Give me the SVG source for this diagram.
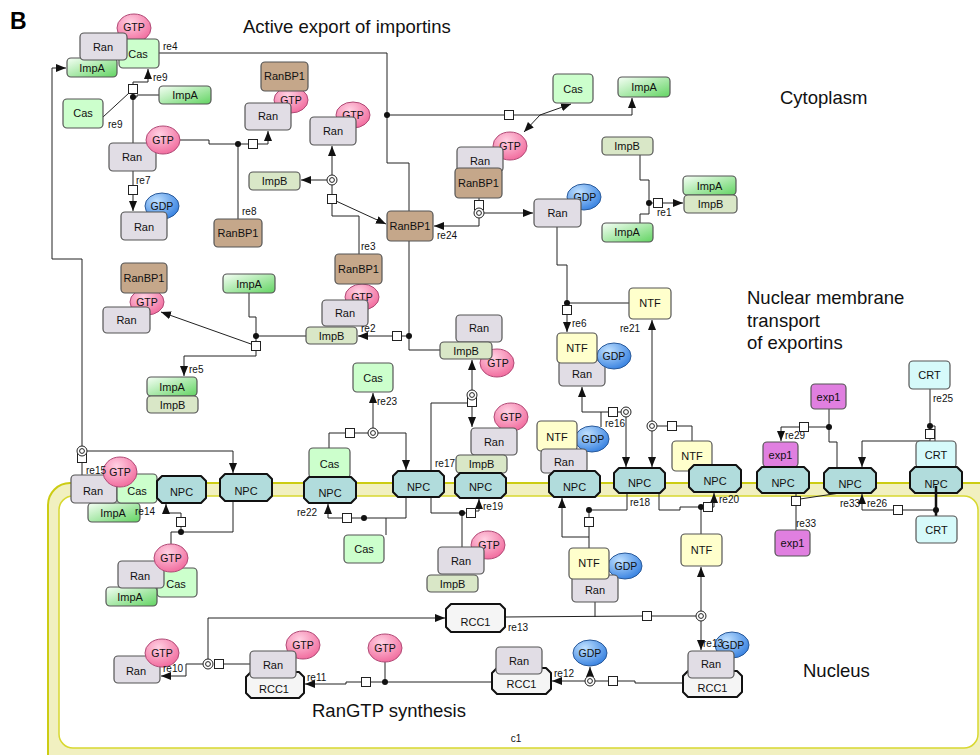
<svg xmlns="http://www.w3.org/2000/svg" xmlns:xlink="http://www.w3.org/1999/xlink" width="980" height="755" viewBox="0 0 980 755">
<defs>
<style>
.t{font-family:"Liberation Sans",Arial,sans-serif;font-size:11px;text-anchor:middle;fill:#111}
.e{font-size:10.5px}
.lbl{font-family:"Liberation Sans",Arial,sans-serif;font-size:10px;fill:#111}
.big{font-family:"Liberation Sans",Arial,sans-serif;font-size:18.5px;fill:#111}
.ran{fill:#e1dde5;stroke:#555;stroke-width:1.2}
.cas{fill:#ccffcc;stroke:#555;stroke-width:1.2}
.impa{fill:url(#gA);stroke:#555;stroke-width:1.2}
.impb{fill:#d9e7c7;stroke:#555;stroke-width:1.2}
.bp1{fill:#c5a78a;stroke:#555;stroke-width:1.2}
.ntf{fill:#ffffcc;stroke:#555;stroke-width:1.2}
.exp{fill:#e07fe0;stroke:#555;stroke-width:1.2}
.crt{fill:#d6fafa;stroke:#555;stroke-width:1.2}
.npc{fill:#b1dcdc;stroke:#111;stroke-width:2;stroke-linejoin:round}
.rcc{fill:#f5f5f5;stroke:#111;stroke-width:2;stroke-linejoin:round}
.gtp{fill:url(#gT);stroke:#b04a76;stroke-width:1}
.gdp{fill:url(#gD);stroke:#2a5a9a;stroke-width:1}
.ln{fill:none;stroke:#222;stroke-width:1}
.sq{fill:#fff;stroke:#222;stroke-width:1}
.dot{fill:#111}
.ringo{fill:#fff;stroke:#222;stroke-width:1}
</style>
<linearGradient id="gA" x1="0" y1="0" x2="1" y2="1"><stop offset="0" stop-color="#f6fff6"/><stop offset="1" stop-color="#62d462"/></linearGradient>
<radialGradient id="gT" cx="0.4" cy="0.3" r="0.85"><stop offset="0" stop-color="#ffd0e2"/><stop offset="1" stop-color="#ef5a92"/></radialGradient>
<radialGradient id="gD" cx="0.35" cy="0.3" r="0.85"><stop offset="0" stop-color="#bfe0ff"/><stop offset="1" stop-color="#2474dc"/></radialGradient>
<marker id="ah" markerWidth="10" markerHeight="8" refX="10" refY="4" orient="auto" markerUnits="userSpaceOnUse"><path d="M0,0 L10,4 L0,8 z" fill="#111"/></marker>
<rect id="sq" class="sq" x="-4.5" y="-4.5" width="9" height="9"/>
<g id="ring"><circle class="ringo" r="5"/><circle r="2.4" fill="none" stroke="#222"/></g>
</defs>

<rect width="980" height="755" fill="#fff"/>

<g id="c1">
<rect x="48" y="483" width="960" height="300" rx="22" fill="#f1f0c0" stroke="#cccc14" stroke-width="2"/>
<rect x="59" y="496" width="919" height="252" rx="14" fill="#fff" stroke="#d8d830" stroke-width="1.5"/>
<text class="lbl" x="516" y="742" text-anchor="middle">c1</text>
</g>

<g id="titles">
<text x="10" y="29" font-family="Liberation Sans,Arial,sans-serif" font-size="23" font-weight="bold">B</text>
<text class="big" x="243" y="33">Active export of importins</text>
<text class="big" x="780" y="104">Cytoplasm</text>
<text class="big" x="747" y="304">Nuclear membrane</text>
<text class="big" x="747" y="327">transport</text>
<text class="big" x="747" y="349">of exportins</text>
<text class="big" x="803" y="677">Nucleus</text>
<text class="big" x="312" y="717">RanGTP synthesis</text>
</g>

<g id="connectors" class="ln">
<!-- re4 -->
<polyline points="159,53 387,53 387,163 409,163 409,211"/>
<polyline points="387,115 632,115 632,98" marker-end="url(#ah)"/>
<polyline points="540,115 571,104" marker-end="url(#ah)"/>
<polyline points="540,115 524,132" marker-end="url(#ah)"/>
<!-- re24 -->
<line x1="479" y1="198" x2="479" y2="203"/>
<polyline points="484,213 533,213" marker-end="url(#ah)"/>
<polyline points="479,218 479,226 434,226" marker-end="url(#ah)"/>
<!-- re8 -->
<polyline points="180,140 209,140 209,144 248,144"/>
<polyline points="258,144 268,144 268,131" marker-end="url(#ah)"/>
<line x1="238" y1="144" x2="238" y2="219"/>
<!-- re7 -->
<line x1="133" y1="171" x2="133" y2="186"/>
<line x1="133" y1="195" x2="133" y2="211" marker-end="url(#ah)"/>
<!-- re9 -->
<line x1="103" y1="117" x2="129" y2="93"/>
<polyline points="133,85 133,82 148,82 148,69" marker-end="url(#ah)"/>
<line x1="133" y1="93" x2="133" y2="143"/>
<polyline points="133,97 137,97 137,95 159,95"/>
<!-- re3 -->
<line x1="332" y1="175" x2="332" y2="146" marker-end="url(#ah)"/>
<line x1="327" y1="180" x2="301" y2="180" marker-end="url(#ah)"/>
<line x1="332" y1="185" x2="332" y2="195"/>
<line x1="336" y1="201" x2="386" y2="224" marker-end="url(#ah)"/>
<polyline points="332,203 332,216 359,216 359,254"/>
<!-- re2 -->
<polyline points="409,241 409,350 440,350"/>
<line x1="409" y1="336" x2="401" y2="336"/>
<line x1="392" y1="336" x2="358" y2="336" marker-end="url(#ah)"/>
<!-- re5 -->
<polyline points="249,293 249,317 256,317 256,342"/>
<line x1="256" y1="336" x2="306" y2="336"/>
<line x1="251" y1="344" x2="161" y2="312" marker-end="url(#ah)"/>
<polyline points="256,351 256,356 184,356 184,376" marker-end="url(#ah)"/>
<!-- re1 -->
<polyline points="640,155 640,180 649,180 649,214 640,214 640,223"/>
<line x1="649" y1="203" x2="654" y2="203"/>
<line x1="663" y1="203" x2="683" y2="203" marker-end="url(#ah)"/>
<!-- re15 -->
<polyline points="82,446 82,259 52,259 52,68 66,68" marker-end="url(#ah)"/>
<line x1="82" y1="462" x2="82" y2="475"/>
<polyline points="87,451 233,451 233,473" marker-end="url(#ah)"/>
<!-- re14 -->
<polyline points="181,517 181,513 166,513 166,504" marker-end="url(#ah)"/>
<polyline points="181,527 181,532 171,532 171,544"/>
<polyline points="181,532 233,532 233,501"/>
<!-- re22 -->
<polyline points="342,518 328,518 328,504" marker-end="url(#ah)"/>
<polyline points="352,518 406,518 406,497"/>
<polyline points="386,518 386,535"/>
<!-- re23 -->
<polyline points="329,448 329,433 345,433"/>
<line x1="355" y1="433" x2="368" y2="433"/>
<line x1="373" y1="428" x2="373" y2="393" marker-end="url(#ah)"/>
<polyline points="378,433 406,433 406,470" marker-end="url(#ah)"/>
<!-- re17 / re19 -->
<line x1="472" y1="390" x2="472" y2="360" marker-end="url(#ah)"/>
<line x1="472" y1="406" x2="472" y2="427" marker-end="url(#ah)"/>
<polyline points="467,403 431,403 431,513 466,513"/>
<line x1="462" y1="513" x2="462" y2="547"/>
<polyline points="476,511 479,511 479,499" marker-end="url(#ah)"/>
<!-- re6 -->
<polyline points="557,227 557,265 567,265 567,306"/>
<line x1="567" y1="315" x2="567" y2="332" marker-end="url(#ah)"/>
<line x1="567" y1="303" x2="629" y2="303"/>
<!-- re21 -->
<line x1="652" y1="421" x2="652" y2="320" marker-end="url(#ah)"/>
<line x1="652" y1="431" x2="652" y2="467" marker-end="url(#ah)"/>
<line x1="657" y1="426" x2="668" y2="426"/>
<polyline points="677,426 692,426 692,441"/>
<!-- re16 -->
<polyline points="601,427 601,412 608,412"/>
<polyline points="601,412 582,412 582,387" marker-end="url(#ah)"/>
<line x1="618" y1="412" x2="621" y2="412"/>
<line x1="626" y1="417" x2="626" y2="467" marker-end="url(#ah)"/>
<!-- re18 -->
<line x1="589" y1="548" x2="589" y2="527"/>
<line x1="589" y1="518" x2="589" y2="510"/>
<polyline points="589,537 562,537 562,498" marker-end="url(#ah)"/>
<polyline points="589,510 627,510 627,493"/>
<!-- re20 -->
<line x1="701" y1="534" x2="701" y2="507"/>
<polyline points="701,507 680,507 680,510 659,510 659,493"/>
<polyline points="712,507 714,507 714,493" marker-end="url(#ah)"/>
<!-- re29 -->
<polyline points="829,409 829,442 837,442 837,468"/>
<line x1="829" y1="427" x2="809" y2="427"/>
<polyline points="799,427 781,427 781,441" marker-end="url(#ah)"/>
<!-- re25 -->
<line x1="930" y1="389" x2="930" y2="430"/>
<polyline points="930,426 935,426 935,441"/>
<polyline points="930,438 930,441 862,441 862,467" marker-end="url(#ah)"/>
<!-- re26 -->
<polyline points="893,510 862,510 862,494" marker-end="url(#ah)"/>
<line x1="903" y1="510" x2="936" y2="510"/>
<!-- re33 -->
<line x1="796" y1="493" x2="796" y2="497"/>
<line x1="800" y1="499" x2="840" y2="493"/>
<line x1="796" y1="505" x2="796" y2="530"/>
<!-- re10 -->
<polyline points="203,664 186,664 186,676 161,676" marker-end="url(#ah)"/>
<polyline points="208,659 208,618 445,618" marker-end="url(#ah)"/>
<line x1="224" y1="664" x2="250" y2="664"/>
<!-- re11 -->
<line x1="492" y1="682" x2="371" y2="682"/>
<line x1="385" y1="662" x2="385" y2="682"/>
<polyline points="361,682 346,682 346,684 305,684" marker-end="url(#ah)"/>
<!-- re12 -->
<line x1="585" y1="681" x2="552" y2="681" marker-end="url(#ah)"/>
<line x1="590" y1="676" x2="590" y2="667" marker-end="url(#ah)"/>
<line x1="595" y1="681" x2="608" y2="681"/>
<polyline points="618,681 635,681 635,683 683,683"/>
<!-- re13 -->
<line x1="701" y1="621" x2="701" y2="650" marker-end="url(#ah)"/>
<line x1="701" y1="611" x2="701" y2="567" marker-end="url(#ah)"/>
<line x1="696" y1="616" x2="652" y2="616"/>
<line x1="642" y1="616" x2="505" y2="617"/>
<line x1="595" y1="602" x2="595" y2="617"/>
<!-- process glyphs -->
<g fill="#111" stroke="none">
<circle cx="387" cy="115" r="3"/><circle cx="238" cy="144" r="3"/><circle cx="133" cy="97" r="3"/>
<circle cx="409" cy="336" r="3"/><circle cx="256" cy="336" r="3"/><circle cx="181" cy="532" r="3"/>
<circle cx="364" cy="518" r="3"/><circle cx="462" cy="513" r="3"/><circle cx="567" cy="303" r="3"/>
<circle cx="589" cy="510" r="3"/><circle cx="701" cy="507" r="3"/><circle cx="829" cy="427" r="3"/>
<circle cx="930" cy="426" r="3"/><circle cx="936" cy="510" r="3"/><circle cx="385" cy="682" r="3"/>
<circle cx="649" cy="203" r="3"/>
</g>
<use href="#sq" x="509" y="115"/><use href="#sq" x="479" y="205"/><use href="#sq" x="253" y="144"/>
<use href="#sq" x="133" y="190"/><use href="#sq" x="133" y="89"/><use href="#sq" x="332" y="199"/>
<use href="#sq" x="397" y="336"/><use href="#sq" x="256" y="346"/><use href="#sq" x="82" y="458"/>
<use href="#sq" x="181" y="522"/><use href="#sq" x="347" y="518"/><use href="#sq" x="350" y="433"/>
<use href="#sq" x="472" y="402"/><use href="#sq" x="471" y="513"/><use href="#sq" x="567" y="310"/>
<use href="#sq" x="672" y="426"/><use href="#sq" x="613" y="412"/><use href="#sq" x="589" y="522"/>
<use href="#sq" x="708" y="507"/><use href="#sq" x="804" y="427"/><use href="#sq" x="930" y="434"/>
<use href="#sq" x="898" y="510"/><use href="#sq" x="796" y="501"/><use href="#sq" x="219" y="664"/>
<use href="#sq" x="366" y="682"/><use href="#sq" x="613" y="681"/><use href="#sq" x="647" y="616"/>
<use href="#sq" x="658" y="203"/>
<use href="#ring" x="332" y="180"/><use href="#ring" x="479" y="213"/><use href="#ring" x="82" y="451"/>
<use href="#ring" x="373" y="433"/><use href="#ring" x="472" y="395"/><use href="#ring" x="652" y="426"/>
<use href="#ring" x="626" y="412"/><use href="#ring" x="208" y="664"/><use href="#ring" x="590" y="681"/>
<use href="#ring" x="701" y="616"/>
</g>

<!-- Cytoplasm nodes -->
<g id="cx_RanGTP_Cas_ImpA_top">
<ellipse class="gtp" cx="134" cy="28" rx="17" ry="14"/><text class="t e" x="134" y="31">GTP</text>
<rect class="cas" x="119" y="39" width="40" height="29" rx="4"/><text class="t" x="138" y="58">Cas</text>
<rect class="impa" x="67" y="58" width="50" height="19" rx="4"/><text class="t" x="92" y="72">ImpA</text>
<rect class="ran" x="80" y="33" width="47" height="27" rx="4"/><text class="t" x="103" y="51">Ran</text>
</g>
<g id="s_Cas_left"><rect class="cas" x="63" y="99" width="40" height="29" rx="4"/><text class="t" x="83" y="117">Cas</text></g>
<g id="s_ImpA_mid"><rect class="impa" x="159" y="86" width="52" height="18" rx="4"/><text class="t" x="185" y="99">ImpA</text></g>
<g id="cx_RanGTP_mid">
<rect class="ran" x="109" y="143" width="47" height="28" rx="4"/><text class="t" x="132" y="161">Ran</text>
<ellipse class="gtp" cx="163" cy="140" rx="17" ry="14"/><text class="t e" x="163" y="144">GTP</text>
</g>
<g id="cx_RanGDP_left">
<ellipse class="gdp" cx="162" cy="206" rx="17" ry="13"/><text class="t e" x="162" y="210">GDP</text>
<rect class="ran" x="121" y="212" width="46" height="28" rx="4"/><text class="t" x="144" y="231">Ran</text>
</g>
<g id="s_RanBP1_re8"><rect class="bp1" x="214" y="219" width="48" height="28" rx="4"/><text class="t" x="238" y="237">RanBP1</text></g>
<g id="cx_RanBP1_RanGTP_top">
<ellipse class="gtp" cx="291" cy="100" rx="17" ry="13"/><text class="t e" x="291" y="104">GTP</text>
<rect class="bp1" x="261" y="62" width="47" height="29" rx="4"/><text class="t" x="284.5" y="80">RanBP1</text>
<rect class="ran" x="245" y="103" width="46" height="27" rx="4"/><text class="t" x="268" y="120">Ran</text>
</g>
<g id="cx_RanGTP_re3">
<ellipse class="gtp" cx="353" cy="115" rx="17" ry="13"/><text class="t e" x="353" y="119">GTP</text>
<rect class="ran" x="310" y="117" width="46" height="28" rx="4"/><text class="t" x="333" y="135">Ran</text>
</g>
<g id="s_ImpB_re3"><rect class="impb" x="249" y="172" width="51" height="18" rx="4"/><text class="t" x="274.5" y="185">ImpB</text></g>
<g id="s_RanBP1_center"><rect class="bp1" x="387" y="211" width="46" height="30" rx="4"/><text class="t" x="410" y="230">RanBP1</text></g>
<g id="cx_Ran_RanBP1_GTP">
<ellipse class="gtp" cx="510" cy="146" rx="17" ry="14"/><text class="t e" x="510" y="150">GTP</text>
<rect class="ran" x="457" y="147" width="46" height="25" rx="4"/><text class="t" x="480" y="165">Ran</text>
<rect class="bp1" x="455" y="168" width="47" height="30" rx="4"/><text class="t" x="478.5" y="187">RanBP1</text>
</g>
<g id="s_Cas_top"><rect class="cas" x="553" y="74" width="40" height="29" rx="4"/><text class="t" x="573" y="93">Cas</text></g>
<g id="s_ImpA_top"><rect class="impa" x="618" y="77" width="52" height="20" rx="4"/><text class="t" x="644" y="91">ImpA</text></g>
<g id="cx_RanGDP_right">
<ellipse class="gdp" cx="584" cy="197" rx="17" ry="13"/><text class="t e" x="585" y="201">GDP</text>
<rect class="ran" x="534" y="199" width="47" height="28" rx="4"/><text class="t" x="557.5" y="217">Ran</text>
</g>
<g id="s_ImpB_right"><rect class="impb" x="602" y="137" width="51" height="18" rx="4"/><text class="t" x="627" y="150">ImpB</text></g>
<g id="s_ImpA_right"><rect class="impa" x="602" y="223" width="51" height="19" rx="4"/><text class="t" x="627" y="236">ImpA</text></g>
<g id="cx_ImpA_ImpB_re1">
<rect class="impa" x="683" y="176" width="53" height="19" rx="4"/><text class="t" x="709.5" y="190">ImpA</text>
<rect class="impb" x="684" y="195" width="53" height="18" rx="4"/><text class="t" x="710.5" y="208">ImpB</text>
</g>
<g id="cx_RanBP1_RanGTP_left">
<ellipse class="gtp" cx="147" cy="302" rx="17" ry="13"/><text class="t e" x="147" y="306">GTP</text>
<rect class="bp1" x="121" y="263" width="46" height="30" rx="4"/><text class="t" x="144" y="282">RanBP1</text>
<rect class="ran" x="103" y="307" width="47" height="26" rx="4"/><text class="t" x="126.5" y="324">Ran</text>
</g>
<g id="s_ImpA_re5"><rect class="impa" x="223" y="274" width="52" height="19" rx="4"/><text class="t" x="249" y="288">ImpA</text></g>
<g id="cx_ImpA_ImpB_re5">
<rect class="impa" x="147" y="377" width="50" height="19" rx="4"/><text class="t" x="172" y="391">ImpA</text>
<rect class="impb" x="147" y="396" width="51" height="17" rx="4"/><text class="t" x="172.5" y="409">ImpB</text>
</g>
<g id="cx_RanBP1_Ran_ImpB_re2">
<ellipse class="gtp" cx="362" cy="297" rx="17" ry="13"/><text class="t e" x="362" y="301">GTP</text>
<rect class="bp1" x="335" y="254" width="47" height="30" rx="4"/><text class="t" x="358.5" y="273">RanBP1</text>
<rect class="ran" x="322" y="300" width="46" height="26" rx="4"/><text class="t" x="345" y="317">Ran</text>
<rect class="impb" x="306" y="327" width="51" height="17" rx="4"/><text class="t" x="331.5" y="340">ImpB</text>
</g>
<g id="cx_Ran_ImpB_GTP_cyto">
<rect class="ran" x="456" y="315" width="46" height="27" rx="4"/><text class="t" x="479" y="332">Ran</text>
<ellipse class="gtp" cx="497" cy="363" rx="17" ry="14"/><text class="t e" x="498" y="367">GTP</text>
<rect class="impb" x="440" y="342" width="52" height="17" rx="4"/><text class="t" x="466" y="355">ImpB</text>
</g>
<g id="s_Cas_cyto_low"><rect class="cas" x="353" y="363" width="40" height="29" rx="4"/><text class="t" x="373" y="382">Cas</text></g>
<g id="cx_NTF_Ran_GDP_cyto">
<rect class="ran" x="559" y="360" width="46" height="26" rx="4"/><text class="t" x="582" y="378">Ran</text>
<ellipse class="gdp" cx="614" cy="356" rx="17" ry="13"/><text class="t e" x="614" y="360">GDP</text>
<rect class="ntf" x="557" y="333" width="40" height="30" rx="4"/><text class="t" x="577" y="352">NTF</text>
</g>
<g id="s_NTF_cyto"><rect class="ntf" x="629" y="288" width="42" height="31" rx="4"/><text class="t" x="650" y="307">NTF</text></g>
<g id="s_exp1_cyto"><rect class="exp" x="811" y="384" width="35" height="25" rx="4"/><text class="t" x="828.5" y="401">exp1</text></g>
<g id="s_CRT_cyto"><rect class="crt" x="909" y="361" width="41" height="28" rx="4"/><text class="t" x="929.5" y="379">CRT</text></g>

<!-- Membrane nodes -->
<g id="cx_membrane_left">
<rect class="impa" x="88" y="503" width="52" height="19" rx="4"/><text class="t" x="113" y="517">ImpA</text>
<rect class="ran" x="71" y="475" width="46" height="28" rx="4"/><text class="t" x="93" y="495">Ran</text>
<rect class="cas" x="117" y="474" width="40" height="29" rx="4"/><text class="t" x="137" y="495">Cas</text>
<ellipse class="gtp" cx="120" cy="472" rx="17" ry="15"/><text class="t e" x="120" y="476">GTP</text>
</g>
<g id="npc1"><polygon class="npc" points="162,476 201,476 206,481 206,498 201,503 162,503 157,498 157,481"/><text class="t" x="181.5" y="496">NPC</text></g>
<g id="npc2"><polygon class="npc" points="225,474 267,474 272,479 272,496 267,501 225,501 220,496 220,479"/><text class="t" x="246" y="495">NPC</text></g>
<g id="cx_Cas_npc3">
<rect class="cas" x="309" y="448" width="41" height="30" rx="4"/><text class="t" x="329.5" y="468">Cas</text>
<polygon class="npc" points="309,477 351,477 356,482 356,498 351,503 309,503 304,498 304,482"/><text class="t" x="330" y="497">NPC</text>
</g>
<g id="npc4"><polygon class="npc" points="398,471 439,471 444,476 444,492 439,497 398,497 393,492 393,476"/><text class="t" x="418.5" y="491">NPC</text></g>
<g id="cx_Ran_ImpB_npc5">
<ellipse class="gtp" cx="511" cy="417" rx="17" ry="14"/><text class="t e" x="511" y="421">GTP</text>
<rect class="ran" x="471" y="428" width="46" height="27" rx="4"/><text class="t" x="494" y="446">Ran</text>
<rect class="impb" x="456" y="455" width="51" height="18" rx="4"/><text class="t" x="481.5" y="468">ImpB</text>
<polygon class="npc" points="460,473 501,473 506,478 506,493 501,498 460,498 455,493 455,478"/><text class="t" x="480.5" y="491">NPC</text>
</g>
<g id="cx_NTF_Ran_npc6">
<ellipse class="gdp" cx="592" cy="439" rx="17" ry="13"/><text class="t e" x="593" y="443">GDP</text>
<rect class="ntf" x="537" y="421" width="40" height="30" rx="4"/><text class="t" x="557" y="441">NTF</text>
<rect class="ran" x="541" y="449" width="46" height="24" rx="4"/><text class="t" x="564" y="466">Ran</text>
<polygon class="npc" points="554,471 595,471 600,476 600,492 595,497 554,497 549,492 549,476"/><text class="t" x="574.5" y="491">NPC</text>
</g>
<g id="npc7"><polygon class="npc" points="619,468 660,468 665,473 665,488 660,493 619,493 614,488 614,473"/><text class="t" x="639.5" y="487">NPC</text></g>
<g id="cx_NTF_npc8">
<rect class="ntf" x="672" y="441" width="40" height="30" rx="4"/><text class="t" x="692" y="460">NTF</text>
<polygon class="npc" points="694,465 736,465 741,470 741,487 736,492 694,492 689,487 689,470"/><text class="t" x="715" y="485">NPC</text>
</g>
<g id="cx_exp1_npc9">
<rect class="exp" x="763" y="442" width="35" height="25" rx="4"/><text class="t" x="780.5" y="459">exp1</text>
<polygon class="npc" points="762,467 804,467 809,472 809,488 804,493 762,493 757,488 757,472"/><text class="t" x="783" y="487">NPC</text>
</g>
<g id="npc10"><polygon class="npc" points="829,468 871,468 876,473 876,488 871,493 829,493 824,488 824,473"/><text class="t" x="850" y="488">NPC</text></g>
<g id="cx_CRT_npc11">
<rect class="crt" x="916" y="441" width="40" height="27" rx="4"/><text class="t" x="936" y="459">CRT</text>
<polygon class="npc" points="915,467 957,467 962,472 962,488 957,493 915,493 910,488 910,472"/><text class="t" x="936" y="488">NPC</text>
</g>
<line x1="936" y1="486" x2="936" y2="516" stroke="#111" stroke-width="2.5"/>

<!-- Nucleus nodes -->
<g id="cx_RanGTP_Cas_ImpA_nuc">
<rect class="cas" x="157" y="568" width="40" height="29" rx="4"/><text class="t" x="176" y="588">Cas</text>
<rect class="impa" x="106" y="587" width="51" height="19" rx="4"/><text class="t" x="130" y="601">ImpA</text>
<rect class="ran" x="118" y="561" width="46" height="27" rx="4"/><text class="t" x="140" y="580">Ran</text>
<ellipse class="gtp" cx="171" cy="558" rx="17" ry="14"/><text class="t e" x="171" y="562">GTP</text>
</g>
<g id="s_Cas_nuc"><rect class="cas" x="344" y="535" width="40" height="28" rx="4"/><text class="t" x="364" y="553">Cas</text></g>
<g id="cx_Ran_ImpB_GTP_nuc">
<ellipse class="gtp" cx="488" cy="545" rx="17" ry="14"/><text class="t e" x="489" y="549">GTP</text>
<rect class="ran" x="438" y="547" width="46" height="27" rx="4"/><text class="t" x="461" y="565">Ran</text>
<rect class="impb" x="427" y="575" width="51" height="17" rx="4"/><text class="t" x="452.5" y="588">ImpB</text>
</g>
<g id="cx_NTF_Ran_GDP_nuc">
<ellipse class="gdp" cx="625" cy="566" rx="17" ry="13"/><text class="t e" x="626" y="570">GDP</text>
<rect class="ran" x="572" y="575" width="46" height="27" rx="4"/><text class="t" x="595" y="594">Ran</text>
<rect class="ntf" x="569" y="548" width="40" height="31" rx="4"/><text class="t" x="589" y="567">NTF</text>
</g>
<g id="s_NTF_nuc"><rect class="ntf" x="681" y="534" width="41" height="32" rx="4"/><text class="t" x="701.5" y="554">NTF</text></g>
<g id="s_exp1_nuc"><rect class="exp" x="775" y="530" width="35" height="26" rx="4"/><text class="t" x="792.5" y="547">exp1</text></g>
<g id="s_CRT_nuc"><rect class="crt" x="916" y="516" width="41" height="27" rx="4"/><text class="t" x="936.5" y="534">CRT</text></g>
<g id="cx_RanGTP_nuc_left">
<rect class="ran" x="114" y="656" width="46" height="27" rx="4"/><text class="t" x="136" y="675">Ran</text>
<ellipse class="gtp" cx="162" cy="653" rx="17" ry="14"/><text class="t e" x="162" y="657">GTP</text>
</g>
<g id="cx_Ran_RCC1_a">
<ellipse class="gtp" cx="303" cy="645" rx="17" ry="14"/><text class="t e" x="303" y="649">GTP</text>
<polygon class="rcc" points="251,672 299,672 304,677 304,693 299,698 251,698 246,693 246,677"/><text class="t" x="274" y="693">RCC1</text>
<rect class="ran" x="250" y="651" width="46" height="27" rx="4"/><text class="t" x="273" y="669">Ran</text>
</g>
<g id="s_GTP_re11"><ellipse class="gtp" cx="385" cy="648" rx="17" ry="14"/><text class="t e" x="385" y="652">GTP</text></g>
<g id="s_RCC1_b"><polygon class="rcc" points="451,604 500,604 505,609 505,627 500,632 451,632 446,627 446,609"/><text class="t" x="475.5" y="626">RCC1</text></g>
<g id="cx_Ran_RCC1_c">
<polygon class="rcc" points="497,668 546,668 551,673 551,689 546,694 497,694 492,689 492,673"/><text class="t" x="521.5" y="688">RCC1</text>
<rect class="ran" x="496" y="647" width="46" height="27" rx="4"/><text class="t" x="519" y="665">Ran</text>
</g>
<g id="s_GDP_re12"><ellipse class="gdp" cx="590" cy="653" rx="17" ry="13"/><text class="t e" x="590" y="657">GDP</text></g>
<g id="cx_Ran_RCC1_d">
<ellipse class="gdp" cx="732" cy="645" rx="17" ry="13"/><text class="t e" x="733" y="649">GDP</text>
<polygon class="rcc" points="688,671 737,671 742,676 742,692 737,697 688,697 683,692 683,676"/><text class="t" x="712.5" y="692">RCC1</text>
<rect class="ran" x="688" y="651" width="46" height="27" rx="4"/><text class="t" x="711" y="668">Ran</text>
</g>

<g id="reaction_labels" class="lbl">
<text x="163" y="50">re4</text><text x="153" y="81">re9</text><text x="108" y="128">re9</text>
<text x="136" y="184">re7</text><text x="242" y="215">re8</text><text x="361" y="250">re3</text>
<text x="437" y="239">re24</text><text x="657" y="216">re1</text><text x="361" y="332">re2</text>
<text x="189" y="373">re5</text><text x="572" y="327">re6</text><text x="620" y="332">re21</text>
<text x="377" y="405">re23</text><text x="605" y="427">re16</text><text x="435" y="467">re17</text>
<text x="86" y="474">re15</text><text x="135" y="515">re14</text><text x="297" y="516">re22</text>
<text x="483" y="510">re19</text><text x="630" y="506">re18</text><text x="719" y="503">re20</text>
<text x="785" y="439">re29</text><text x="933" y="402">re25</text><text x="840" y="507">re33</text>
<text x="867" y="507">re26</text><text x="796" y="527">re33</text><text x="163" y="672">re10</text>
<text x="307" y="681">re11</text><text x="508" y="631">re13</text><text x="554" y="677">re12</text>
<text x="703" y="647">re13</text>
</g>
</svg>
